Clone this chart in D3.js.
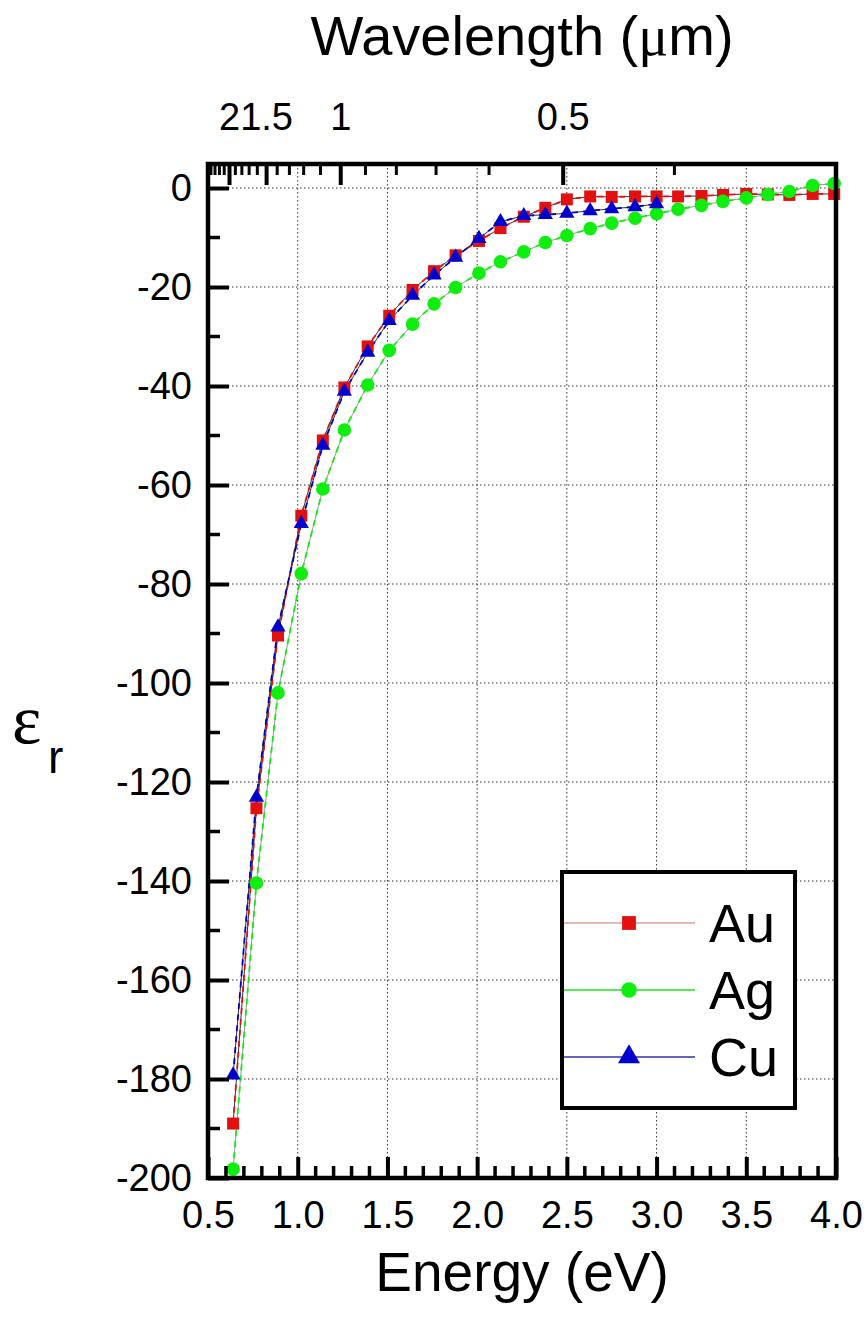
<!DOCTYPE html>
<html>
<head>
<meta charset="utf-8">
<script src="https://cdn.jsdelivr.net/npm/d3@7"></script>
<style>
  html, body { margin: 0; padding: 0; background: #fff; }
  svg { display: block; font-family: "Liberation Sans", Arial, sans-serif; }
</style>
</head>
<body>
<svg id="chart" width="868" height="1328"></svg>
<script>
// ---- data ----
const energies = [0.64, 0.77, 0.89, 1.02, 1.14, 1.26, 1.39, 1.51, 1.64, 1.76, 1.88, 2.01, 2.13, 2.26,
                  2.38, 2.50, 2.63, 2.75, 2.88, 3.00, 3.12, 3.25, 3.37, 3.50, 3.62, 3.74, 3.87, 3.99];
const auValues = [-189.0, -125.3, -90.4, -66.2, -51.0, -40.3, -32.0, -25.8, -20.6, -16.8, -13.6, -10.7, -8.1, -5.8,
                  -4.0, -2.3, -1.7, -1.8, -1.7, -1.7, -1.7, -1.6, -1.4, -1.2, -1.3, -1.4, -1.2, -1.2];
const agValues = [-198.2, -140.4, -102.0, -77.9, -60.8, -48.9, -39.8, -32.8, -27.5, -23.4, -20.1, -17.2, -14.9, -12.9,
                  -11.0, -9.6, -8.2, -7.1, -6.1, -5.2, -4.3, -3.5, -2.7, -2.0, -1.3, -0.7, 0.5, 0.9];
const cuValues = [-179.2, -123.1, -88.7, -67.8, -52.0, -41.1, -33.2, -26.8, -21.7, -17.6, -14.0, -10.2, -6.8, -5.6,
                  -5.4, -5.1, -4.6, -4.2, -3.8, -3.2];
const seriesNames = ["Au", "Ag", "Cu"];
const xMajorTicks = [0.5, 1.0, 1.5, 2.0, 2.5, 3.0, 3.5, 4.0];
const xMinorTicks = [0.6,0.7,0.8,0.9,1.1,1.2,1.3,1.4,1.6,1.7,1.8,1.9,2.1,2.2,2.3,2.4,2.6,2.7,2.8,2.9,3.1,3.2,3.3,3.4,3.6,3.7,3.8,3.9];
const yMajorTicks = [0, -20, -40, -60, -80, -100, -120, -140, -160, -180, -200];
const yMinorTicks = [-10, -30, -50, -70, -90, -110, -130, -150, -170, -190];
const wlMajorTicks = [2, 1.5, 1, 0.5];
const wlMajorLabels = ["2", "1.5", "1", "0.5"];
const wlMinorTicks = [2.4, 2.3, 2.2, 2.1, 1.9, 1.8, 1.7, 1.6, 1.4, 1.3, 1.2, 1.1, 0.9, 0.8, 0.7, 0.6, 0.4];

// ---- layout ----
const L = 208, R = 836, T = 164, B = 1178;
const svg = d3.select("#chart");
const x = d3.scaleLinear().domain([0.5, 4.0]).range([L, R]);
const y = d3.scaleLinear().domain([-200, 4.85]).range([B, T]);
const hc = 1.2398; // eV·µm
const wlToX = wl => x(hc / wl);

const colors = { Au: "#e31010", Ag: "#10ee10", Cu: "#0000cc" };
const baseColors = { Au: "#333", Ag: "#999", Cu: "#333" };
const legendLine = { Au: "#d8a0a0", Ag: "#22e022", Cu: "#3333aa" };

// ---- grid ----
const grid = svg.append("g").attr("stroke", "#333").attr("stroke-width", 1).attr("stroke-dasharray", "1.5,2.5");
grid.selectAll("line.v").data(xMajorTicks.slice(1, -1)).join("line")
  .attr("x1", d => x(d)).attr("x2", d => x(d)).attr("y1", T).attr("y2", B);
grid.selectAll("line.h").data(yMajorTicks.slice(0, -1)).join("line")
  .attr("x1", L).attr("x2", R).attr("y1", d => y(d)).attr("y2", d => y(d));

// ---- series ----
const series = [
  { name: "Au", xs: energies, ys: auValues },
  { name: "Ag", xs: energies, ys: agValues },
  { name: "Cu", xs: energies.slice(0, cuValues.length), ys: cuValues }
].map(s => ({ name: s.name, pts: s.ys.map((v, i) => [s.xs[i], v]) }));

const line = d3.line().x(d => x(d[0])).y(d => y(d[1]));
const lines = svg.append("g").attr("fill", "none");
series.forEach(s => {
  lines.append("path").attr("d", line(s.pts)).attr("stroke", baseColors[s.name]).attr("stroke-width", 1);
  lines.append("path").attr("d", line(s.pts)).attr("stroke", colors[s.name]).attr("stroke-width", 1.8)
    .attr("stroke-dasharray", "6,5");
});

function drawMarker(g, name, cx, cy, scale) {
  if (name === "Au") {
    const s = 12 * scale;
    g.append("rect").attr("x", cx - s / 2).attr("y", cy - s / 2).attr("width", s).attr("height", s).attr("fill", colors.Au);
  } else if (name === "Ag") {
    g.append("circle").attr("cx", cx).attr("cy", cy).attr("r", 6.8 * scale).attr("fill", colors.Ag);
  } else {
    g.append("path").attr("d", d3.symbol().type(d3.symbolTriangle).size(100 * scale * scale)())
      .attr("transform", `translate(${cx},${cy})`).attr("fill", colors.Cu);
  }
}
const marks = svg.append("g");
series.forEach(s => s.pts.forEach(p => drawMarker(marks, s.name, x(p[0]), y(p[1]), 1)));

// ---- axes ----
const fontSize = 38;
const xAxis = svg.append("g").attr("transform", `translate(0,${B})`)
  .call(d3.axisBottom(x).tickValues(xMajorTicks).tickSize(-21).tickPadding(23).tickFormat(d3.format(".1f")));
xAxis.select(".domain").remove();
xAxis.selectAll(".tick line").attr("stroke", "#000").attr("stroke-width", 4);
xAxis.selectAll("text").attr("font-size", fontSize).attr("fill", "#000").attr("font-family", "Liberation Sans, Arial, sans-serif");
svg.append("g").selectAll("line").data(xMinorTicks).join("line")
  .attr("x1", d => x(d)).attr("x2", d => x(d)).attr("y1", B).attr("y2", B - 12)
  .attr("stroke", "#000").attr("stroke-width", 3.5);

const yAxis = svg.append("g").attr("transform", `translate(${L},0)`)
  .call(d3.axisLeft(y).tickValues(yMajorTicks).tickSize(-21).tickPadding(16).tickFormat(d => String(d)));
yAxis.select(".domain").remove();
yAxis.selectAll(".tick line").attr("stroke", "#000").attr("stroke-width", 4);
yAxis.selectAll("text").attr("font-size", fontSize).attr("fill", "#000").attr("font-family", "Liberation Sans, Arial, sans-serif");
svg.append("g").selectAll("line").data(yMinorTicks).join("line")
  .attr("x1", L).attr("x2", L + 12).attr("y1", d => y(d)).attr("y2", d => y(d))
  .attr("stroke", "#000").attr("stroke-width", 3.5);

// top wavelength axis
const topAxis = svg.append("g");
topAxis.selectAll("line.maj").data(wlMajorTicks).join("line").attr("class", "maj")
  .attr("x1", d => wlToX(d)).attr("x2", d => wlToX(d)).attr("y1", T).attr("y2", T + 21)
  .attr("stroke", "#000").attr("stroke-width", 4);
topAxis.selectAll("line.min").data(wlMinorTicks).join("line").attr("class", "min")
  .attr("x1", d => wlToX(d)).attr("x2", d => wlToX(d)).attr("y1", T).attr("y2", T + 11)
  .attr("stroke", "#000").attr("stroke-width", 3);
topAxis.selectAll("text").data(wlMajorTicks).join("text")
  .attr("x", d => wlToX(d)).attr("y", 130)
  .attr("text-anchor", "middle")
  .attr("font-size", fontSize).text((d, i) => wlMajorLabels[i]);

// frame
svg.append("rect").attr("x", L).attr("y", T).attr("width", R - L).attr("height", B - T)
  .attr("fill", "none").attr("stroke", "#000").attr("stroke-width", 4.5);

// ---- titles ----
svg.append("text").attr("x", 522).attr("y", 55).attr("text-anchor", "middle").attr("font-size", 56)
  .call(t => { t.append("tspan").text("Wavelength (");
               t.append("tspan").attr("font-family", "Liberation Serif, serif").text("μ");
               t.append("tspan").text("m)"); });
svg.append("text").attr("x", 522).attr("y", 1291).attr("text-anchor", "middle").attr("font-size", 55)
  .text("Energy (eV)");
svg.append("text").attr("x", 12).attr("y", 743).attr("font-size", 70).attr("font-family", "Liberation Serif, serif").text("ε");
svg.append("text").attr("x", 48).attr("y", 773).attr("font-size", 46).text("r");

// ---- legend ----
const lg = svg.append("g");
lg.append("rect").attr("x", 562).attr("y", 872).attr("width", 233).attr("height", 236)
  .attr("fill", "#fff").attr("stroke", "#000").attr("stroke-width", 4);
const legendY = [923, 990, 1057];
seriesNames.forEach((n, i) => {
  lg.append("line").attr("x1", 564).attr("x2", 695).attr("y1", legendY[i]).attr("y2", legendY[i])
    .attr("stroke", legendLine[n]).attr("stroke-width", 1.6);
  drawMarker(lg, n, 629, legendY[i], n === "Cu" ? 1.45 : 1.15);
  lg.append("text").attr("x", 709).attr("y", legendY[i] + 19).attr("font-size", 54).text(n);
});
</script>
</body>
</html>
